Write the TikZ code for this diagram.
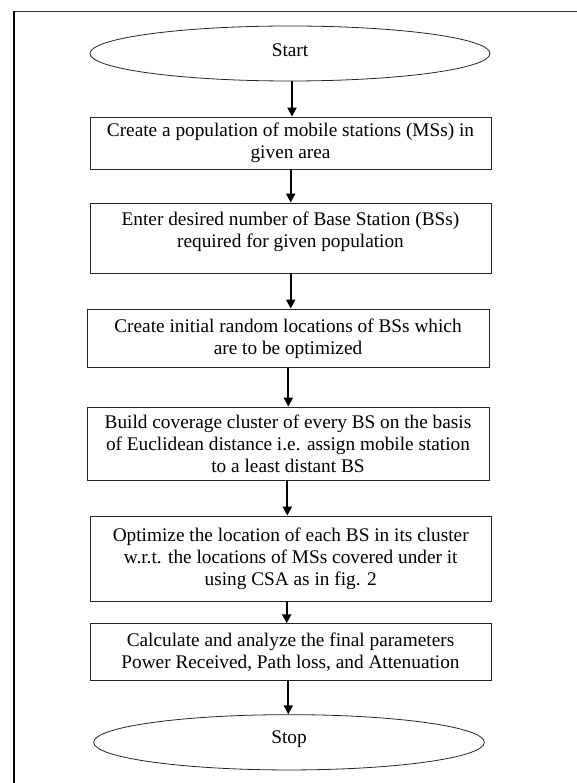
\documentclass[tikz,border=0pt]{standalone}
\usepackage{fontspec}
\setmainfont{Liberation Serif}
\usetikzlibrary{shapes.geometric,arrows.meta}
\begin{document}
\begin{tikzpicture}[x=1pt,y=-1pt,
  every node/.style={font=\fontsize{19.3}{22}\selectfont, inner sep=0pt, align=center},
  procbox/.style={draw=black!85, line width=0.8pt, rectangle},
  term/.style={draw=black!85, line width=0.8pt, ellipse},
  arr/.style={line width=2pt, -{Triangle[length=9pt,width=9pt]}}]
\useasboundingbox (0,0) rectangle (577,783);
\draw[line width=1.5pt, black!80] (577,11.7) -- (13.5,11.7);
\draw[line width=2pt, black] (13.5,11) -- (13.5,783);

\node[term, minimum width=400, minimum height=55] (start) at (290,53.5) {\raisebox{3pt}[\height][\depth]{Start}};
\node[procbox, minimum width=401, minimum height=52] (b1) at (290.5,143)
  {Create a population of mobile stations (MSs) in\\ given area};
\node[procbox, minimum width=401, minimum height=70] (b2) at (290.5,238)
  {Enter desired number of Base Station (BSs)\\ required for given population\\[-6pt]\mbox{}};
\node[procbox, minimum width=402, minimum height=58.7] (b3) at (288,338.3)
  {Create initial random locations of BSs which\\ are to be optimized};
\node[procbox, minimum width=402, minimum height=73] (b4) at (288,443.5)
  {Build coverage cluster of every BS on the basis\\ of Euclidean distance i.e. assign mobile station\\ to a least distant BS};
\node[procbox, minimum width=400.6, minimum height=85] (b5) at (290.7,558.5)
  {Optimize the location of each BS in its cluster\\ w.r.t. the locations of MSs covered under it\\ using CSA as in fig. 2};
\node[procbox, minimum width=401, minimum height=56.6] (b6) at (290.5,652)
  {Calculate and analyze the final parameters\\ Power Received, Path loss, and Attenuation};
\node[term, minimum width=390.7, minimum height=55.3] (stop) at (289,742.3) {\raisebox{3pt}[\height][\depth]{Stop}};

\draw[arr] ([xshift=2]start.south) -- ([xshift=2]start.south |- b1.north);
\draw[arr] ([xshift=0.2]b1.south) -- ([xshift=0.2]b1.south |- b2.north);
\draw[arr] ([xshift=0.2]b2.south) -- ([xshift=0.2]b2.south |- b3.north);
\draw[arr] ([xshift=0.3]b3.south) -- ([xshift=0.3]b3.south |- b4.north);
\draw[arr] ([xshift=-0.7]b4.south) -- ([xshift=-0.7]b4.south |- b5.north);
\draw[arr] ([xshift=-4]b5.south) -- ([xshift=-4]b5.south |- b6.north);
\draw[arr] ([xshift=-2.2]b6.south) -- ([xshift=-2.2]b6.south |- stop.north);
\end{tikzpicture}
\end{document}
